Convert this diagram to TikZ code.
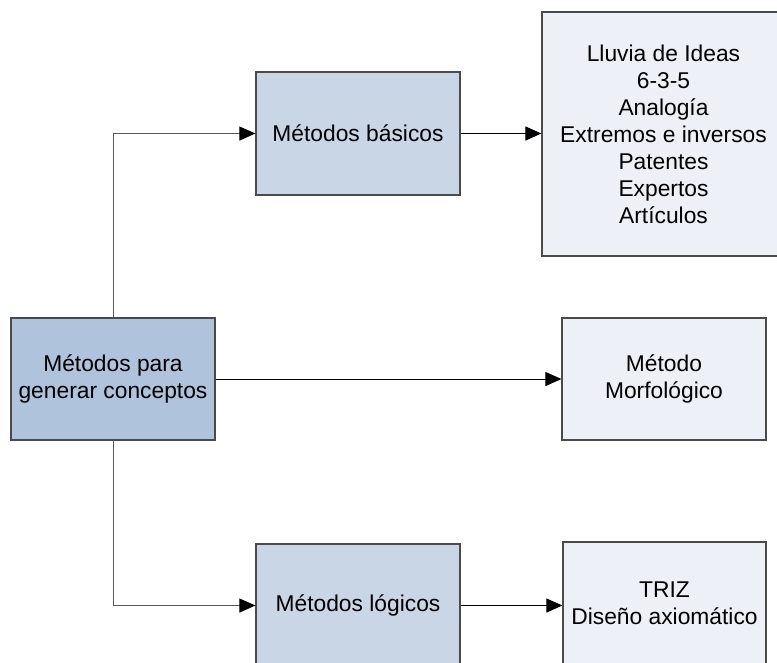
\documentclass[tikz,border=0pt]{standalone}
\usepackage{fontspec}
\setmainfont{Liberation Sans}
\usetikzlibrary{arrows.meta}
\definecolor{mainfill}{HTML}{B0C3DC}
\definecolor{midfill}{HTML}{C9D6E6}
\definecolor{rightfill}{HTML}{EDF0F6}
\definecolor{edgegray}{HTML}{4A4A4A}
\tikzset{
  box/.style={draw=edgegray, line width=1.2pt, inner sep=0pt, align=center,
    font=\fontsize{22.8}{27}\selectfont},
  mainbox/.style={box, fill=mainfill},
  midbox/.style={box, fill=midfill},
  rightbox/.style={box, fill=rightfill},
  conn/.style={draw=black, line width=1pt, -{Triangle[length=16pt,width=14pt,color=black,fill=black]}},
  vconn/.style={conn, draw=black!65}
}
\begin{document}
\begin{tikzpicture}[x=1pt,y=-1pt]
\useasboundingbox (0,0) rectangle (777,662);
\clip (0,0) rectangle (777,662);
\node[mainbox, minimum width=204pt, minimum height=122pt] (main) at (113,379) {Métodos para\\generar conceptos};
\node[midbox, minimum width=204pt, minimum height=123pt] (basicos) at (358,133.5) {Métodos básicos};
\node[midbox, minimum width=204pt, minimum height=123pt] (logicos) at (358,605.5) {Métodos lógicos};
\node[rightbox, minimum width=243pt, minimum height=244pt] (ideas) at (663.5,134) {Lluvia de Ideas\\6-3-5\\Analogía\\Extremos e inversos\\Patentes\\Expertos\\Artículos};
\node[rightbox, minimum width=204pt, minimum height=122pt] (morf) at (664,379) {Método\\Morfológico};
\node[rightbox, minimum width=203pt, minimum height=123pt] (triz) at (664.5,603.5) {TRIZ\\Diseño axiomático};
\draw[vconn] (main.north) |- (basicos.west);
\draw[vconn] (main.south) |- (logicos.west);
\draw[conn] (main.east) -- (morf.west);
\draw[conn] (basicos.east) -- (basicos.east -| ideas.west);
\draw[conn] (logicos.east) -- (logicos.east -| triz.west);
\end{tikzpicture}
\end{document}
